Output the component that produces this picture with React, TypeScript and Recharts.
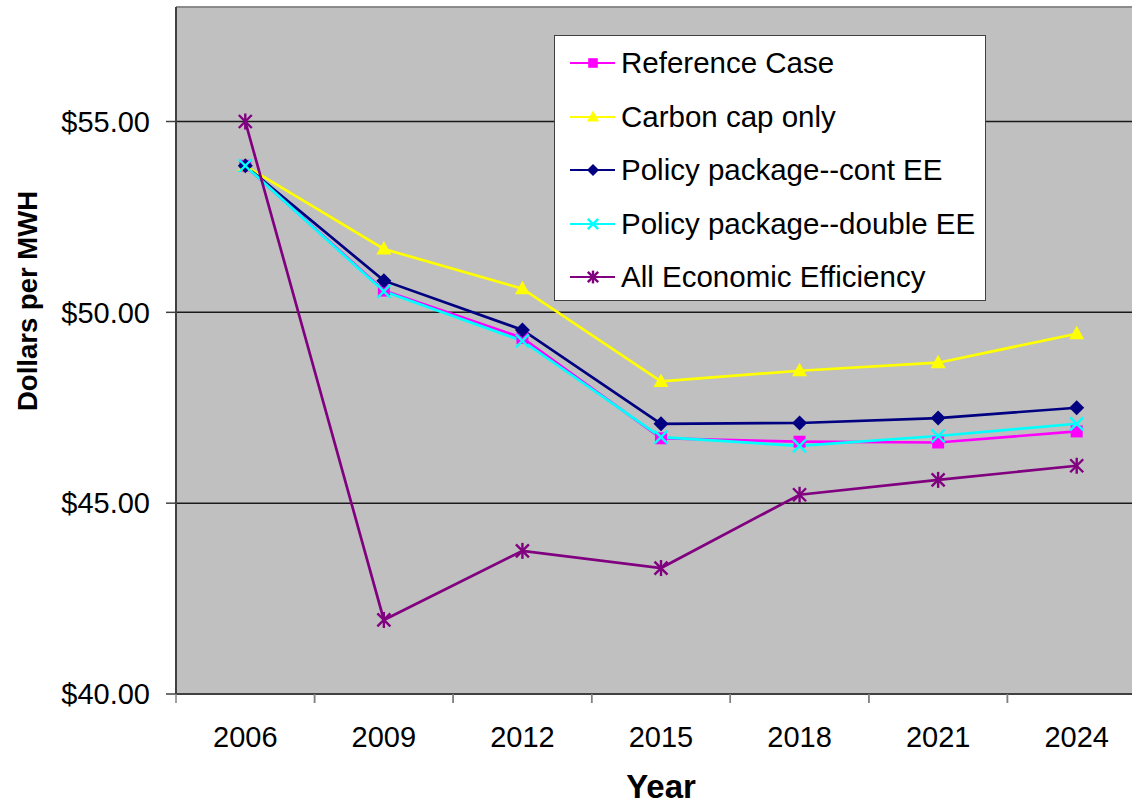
import React from 'react';
import { LineChart, Line, XAxis, YAxis, CartesianGrid, Legend, ReferenceLine } from 'recharts';

const years = ['2006', '2009', '2012', '2015', '2018', '2021', '2024'];
const referenceCase = [53.84, 50.57, 49.33, 46.7, 46.61, 46.59, 46.88];
const carbonCapOnly = [53.84, 51.66, 50.62, 48.19, 48.47, 48.68, 49.44];
const policyContEE = [53.84, 50.83, 49.54, 47.08, 47.1, 47.23, 47.5];
const policyDoubleEE = [53.84, 50.55, 49.25, 46.73, 46.5, 46.76, 47.08];
const allEconomicEfficiency = [55.0, 41.94, 43.75, 43.3, 45.22, 45.61, 45.98];
const yTicks = [40, 45, 50, 55];
const yDomain = [40, 58];

const FONT = '"Liberation Sans", Arial, Helvetica, sans-serif';
const HALF_BAND = 69.29;

type Shape = 'square' | 'triangle' | 'diamond' | 'x' | 'star';

const series: { key: string; name: string; color: string; shape: Shape; values: number[] }[] = [
  { key: 'ref', name: 'Reference Case', color: '#FF00FF', shape: 'square', values: referenceCase },
  { key: 'cap', name: 'Carbon cap only', color: '#FFFF00', shape: 'triangle', values: carbonCapOnly },
  { key: 'cont', name: 'Policy package--cont EE', color: '#000080', shape: 'diamond', values: policyContEE },
  { key: 'dbl', name: 'Policy package--double EE', color: '#00FFFF', shape: 'x', values: policyDoubleEE },
  { key: 'aee', name: 'All Economic Efficiency', color: '#800080', shape: 'star', values: allEconomicEfficiency },
];

const data = years.map((year, i) => {
  const row: Record<string, string | number> = { year };
  series.forEach((s) => {
    row[s.key] = s.values[i];
  });
  return row;
});

function Marker({ cx, cy, color, shape, s = 1 }: { cx: number; cy: number; color: string; shape: Shape; s?: number }) {
  if (cx == null || cy == null) return null;
  switch (shape) {
    case 'square':
      return <rect x={cx - 6 * s} y={cy - 6 * s} width={12 * s} height={12 * s} fill={color} />;
    case 'triangle':
      return (
        <polygon
          points={`${cx},${cy - 8 * s} ${cx + 7.5 * s},${cy + 5.5 * s} ${cx - 7.5 * s},${cy + 5.5 * s}`}
          fill={color}
        />
      );
    case 'diamond':
      return (
        <polygon
          points={`${cx},${cy - 7.5 * s} ${cx + 7.5 * s},${cy} ${cx},${cy + 7.5 * s} ${cx - 7.5 * s},${cy}`}
          fill={color}
        />
      );
    case 'x':
      return (
        <g stroke={color} strokeWidth={2.4}>
          <line x1={cx - 6.5 * s} y1={cy - 6.5 * s} x2={cx + 6.5 * s} y2={cy + 6.5 * s} />
          <line x1={cx - 6.5 * s} y1={cy + 6.5 * s} x2={cx + 6.5 * s} y2={cy - 6.5 * s} />
        </g>
      );
    case 'star':
      return (
        <g stroke={color} strokeWidth={2.4}>
          <line x1={cx - 6.5 * s} y1={cy - 6.5 * s} x2={cx + 6.5 * s} y2={cy + 6.5 * s} />
          <line x1={cx - 6.5 * s} y1={cy + 6.5 * s} x2={cx + 6.5 * s} y2={cy - 6.5 * s} />
          <line x1={cx} y1={cy - 8 * s} x2={cx} y2={cy + 8 * s} />
        </g>
      );
    default:
      return null;
  }
}

function XTick(props: any) {
  const { x, y, payload } = props;
  const off = payload && typeof payload.offset === 'number' && payload.offset > 0 ? payload.offset : HALF_BAND;
  return (
    <g>
      <line x1={x - off} y1={y - 9} x2={x - off} y2={y} stroke="#808080" strokeWidth={1.5} />
      <line x1={x + off} y1={y - 9} x2={x + off} y2={y} stroke="#808080" strokeWidth={1.5} />
      <text x={x} y={y + 44} textAnchor="middle" fontSize={29} fontFamily={FONT} fill="#000">
        {payload.value}
      </text>
    </g>
  );
}

function LegendBox() {
  return (
    <div
      style={{
        width: 432,
        height: 266,
        background: '#FFFFFF',
        border: '1px solid #404040',
        boxSizing: 'border-box',
        position: 'relative',
        fontFamily: FONT,
      }}
    >
      {series.map((s, i) => (
        <div
          key={s.key}
          style={{
            position: 'absolute',
            left: 0,
            top: 27 + i * 53.6 - 20,
            height: 40,
            display: 'flex',
            alignItems: 'center',
          }}
        >
          <svg width={66} height={40} style={{ display: 'block' }}>
            <line x1={15} y1={20} x2={60} y2={20} stroke={s.color} strokeWidth={2} />
            <Marker cx={38} cy={20} color={s.color} shape={s.shape} s={0.8} />
          </svg>
          <span style={{ fontSize: 29.5, color: '#000', whiteSpace: 'nowrap', lineHeight: '40px' }}>{s.name}</span>
        </div>
      ))}
    </div>
  );
}

export default function App() {
  return (
    <div
      style={{
        position: 'fixed',
        left: 0,
        top: 0,
        width: 1132,
        height: 806,
        overflow: 'hidden',
        background: '#FFFFFF',
      }}
    >
      <LineChart
        width={1146}
        height={806}
        data={data}
        margin={{ top: 7, right: 0, bottom: 0, left: 0 }}
        style={{ fontFamily: FONT }}
      >
        <CartesianGrid
          horizontal={true}
          vertical={false}
          fill="#C0C0C0"
          stroke="#1a1a1a"
          strokeWidth={1.5}
          strokeOpacity={1}
        />
        <ReferenceLine y={yDomain[1]} stroke="#A0A0A0" strokeWidth={1.5} ifOverflow="visible" />
        <XAxis
          dataKey="year"
          type="category"
          height={112}
          padding={{ left: HALF_BAND, right: HALF_BAND }}
          tickLine={false}
          tickSize={9}
          tickMargin={0}
          axisLine={{ stroke: '#404040', strokeWidth: 2 }}
          tick={<XTick />}
          interval={0}
          label={{
            value: 'Year',
            position: 'insideBottom',
            offset: 8,
            fontSize: 33,
            fontWeight: 'bold',
            fill: '#000',
            fontFamily: FONT,
          }}
        />
        <YAxis
          type="number"
          domain={yDomain}
          ticks={yTicks}
          width={176}
          tickSize={10}
          tickMargin={16}
          tickLine={{ stroke: '#404040', strokeWidth: 1.5 }}
          axisLine={{ stroke: '#404040', strokeWidth: 2 }}
          tick={{ fontSize: 29, fill: '#000', fontFamily: FONT }}
          tickFormatter={(v: number) => `$${v.toFixed(2)}`}
          allowDataOverflow={true}
          label={() => (
            <text
              x={0}
              y={0}
              transform={`translate(37, 301) rotate(-90)`}
              textAnchor="middle"
              fontSize={27.5}
              fontWeight="bold"
              fontFamily={FONT}
              fill="#000"
            >
              Dollars per MWH
            </text>
          )}
        />
        <Legend
          layout="vertical"
          align="center"
          verticalAlign="middle"
          content={() => <LegendBox />}
          wrapperStyle={{ left: 554, top: 35, width: 432, height: 266 }}
        />
        {series.map((s) => (
          <Line
            key={s.key}
            dataKey={s.key}
            name={s.name}
            type="linear"
            stroke={s.color}
            strokeWidth={2.7}
            isAnimationActive={false}
            dot={(p: any) => (
              <Marker key={`${s.key}-${p.index}`} cx={p.cx} cy={p.cy} color={s.color} shape={s.shape} />
            )}
            activeDot={false}
          />
        ))}
      </LineChart>
    </div>
  );
}
